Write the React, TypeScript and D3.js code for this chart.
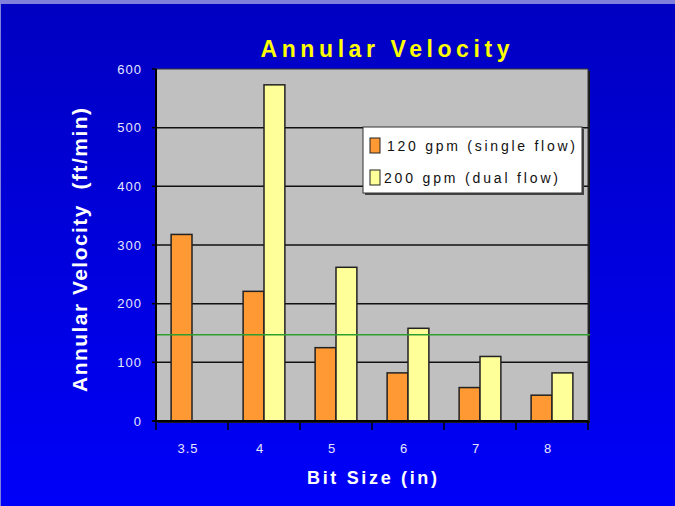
import React from "react";
import * as d3 from "d3";

const categories = ["3.5", "4", "5", "6", "7", "8"];
const singleFlow: (number | null)[] = [318, 221, 125, 82, 57, 44];
const dualFlow: (number | null)[] = [null, 573, 262, 158, 110, 82];
const seriesNames = ["120 gpm (single flow)", "200 gpm (dual flow)"];
const seriesColors = ["#ff9933", "#ffff99"];
const yTicks = [0, 100, 200, 300, 400, 500, 600];
const referenceValue = 147;

const W = 675;
const H = 506;
const plot = { left: 156, right: 588, top: 69, bottom: 421 };

export default function App() {
  const x = d3.scaleBand<string>().domain(categories).range([plot.left, plot.right]).padding(0);
  const bw = x.bandwidth();
  const gw = bw * 0.58;
  const x1 = d3
    .scaleBand<string>()
    .domain(["s", "d"])
    .range([(bw - gw) / 2, (bw + gw) / 2])
    .padding(0);
  const y = d3.scaleLinear().domain([0, 600]).range([plot.bottom, plot.top]);
  const series = [singleFlow, dualFlow];
  const keys = ["s", "d"];
  const font = "'Liberation Sans', Arial, sans-serif";
  const tickColor = "#e6e6ff";

  return (
    <svg
      width={W}
      height={H}
      style={{ position: "absolute", left: 0, top: 0, display: "block" }}
      fontFamily={font}
    >
      <defs>
        <linearGradient id="bg" x1="0" y1="0" x2="0" y2="1">
          <stop offset="0" stopColor="#0000c2" />
          <stop offset="0.5" stopColor="#0000dd" />
          <stop offset="1" stopColor="#0000f8" />
        </linearGradient>
      </defs>
      <rect x={0} y={0} width={W} height={H} fill="#8080dc" />
      <rect x={1} y={4} width={W - 1} height={H - 4} fill="url(#bg)" />

      {/* Title */}
      <text
        x={385}
        y={57}
        textAnchor="middle"
        fontWeight="bold"
        fontSize={23}
        fill="#ffff00"
        textLength={249}
        lengthAdjust="spacing"
      >
        Annular Velocity
      </text>

      {/* plot area */}
      <rect x={plot.left + 2} y={plot.top + 2} width={plot.right - plot.left} height={plot.bottom - plot.top} fill="#1a1a1a" />
      <rect
        x={plot.left}
        y={plot.top}
        width={plot.right - plot.left}
        height={plot.bottom - plot.top}
        fill="#c0c0c0"
        stroke="#333"
        strokeWidth={1}
      />

      {/* gridlines */}
      {yTicks
        .filter((t) => t > 0 && t < 600)
        .map((t) => (
          <line
            key={"g" + t}
            x1={plot.left}
            x2={plot.right}
            y1={y(t)}
            y2={y(t)}
            stroke="#111"
            strokeWidth={1.5}
          />
        ))}

      {/* bars */}
      {series.map((vals, si) =>
        vals.map((v, i) =>
          v == null ? null : (
            <rect
              key={si + "-" + i}
              x={(x(categories[i]) as number) + (x1(keys[si]) as number)}
              y={y(v)}
              width={x1.bandwidth()}
              height={y(0) - y(v)}
              fill={seriesColors[si]}
              stroke="#222"
              strokeWidth={1.5}
            />
          )
        )
      )}

      {/* reference line */}
      <line
        x1={plot.left}
        x2={plot.right + 2}
        y1={y(referenceValue)}
        y2={y(referenceValue)}
        stroke="#2e9e2e"
        strokeWidth={1.5}
      />

      {/* axes */}
      <line x1={plot.left} x2={plot.left} y1={plot.top} y2={plot.bottom} stroke="#000" strokeWidth={2} />
      <line x1={plot.left - 4} x2={plot.right} y1={plot.bottom} y2={plot.bottom} stroke="#000" strokeWidth={2} />
      {yTicks.map((t) => (
        <g key={"yt" + t}>
          <line x1={plot.left - 4} x2={plot.left} y1={y(t)} y2={y(t)} stroke="#000" strokeWidth={1.5} />
          <text
            x={142}
            y={y(t)}
            dy="0.35em"
            textAnchor="end"
            fontSize={13}
            fill={tickColor}
            letterSpacing={1}
          >
            {t}
          </text>
        </g>
      ))}
      {[...categories.map((c) => x(c) as number), plot.right].map((px, i) => (
        <line key={"xt" + i} x1={px} x2={px} y1={plot.bottom} y2={plot.bottom + 9} stroke="#000" strokeWidth={1.5} />
      ))}
      {categories.map((c) => (
        <text
          key={"xl" + c}
          x={(x(c) as number) + bw / 2 - 4}
          y={453}
          textAnchor="middle"
          fontSize={13}
          fill={tickColor}
          letterSpacing={1}
        >
          {c}
        </text>
      ))}

      {/* axis titles */}
      <text
        x={372}
        y={484}
        textAnchor="middle"
        fontWeight="bold"
        fontSize={18}
        fill="#ffffff"
        textLength={130}
        lengthAdjust="spacing"
      >
        Bit Size (in)
      </text>
      <text
        transform="translate(87,250) rotate(-90)"
        textAnchor="middle"
        fontWeight="bold"
        fontSize={21}
        fill="#ffffff"
        textLength={284}
        lengthAdjust="spacing"
        style={{ whiteSpace: "pre" }}
      >
        Annular Velocity  (ft/min)
      </text>

      {/* legend */}
      <rect x={365} y={129} width={219} height={66} fill="#444" />
      <rect x={363} y={127} width={219} height={66} fill="#ffffff" stroke="#333" strokeWidth={1} />
      {seriesNames.map((name, i) => (
        <g key={"lg" + i}>
          <rect
            x={370}
            y={138 + i * 32}
            width={10}
            height={15}
            fill={seriesColors[i]}
            stroke="#222"
            strokeWidth={1}
          />
          <text
            x={i === 0 ? 387 : 384}
            y={151 + i * 32}
            fontSize={14}
            fill="#111"
            textLength={i === 0 ? 188 : 174}
            lengthAdjust="spacing"
          >
            {name}
          </text>
        </g>
      ))}
    </svg>
  );
}
